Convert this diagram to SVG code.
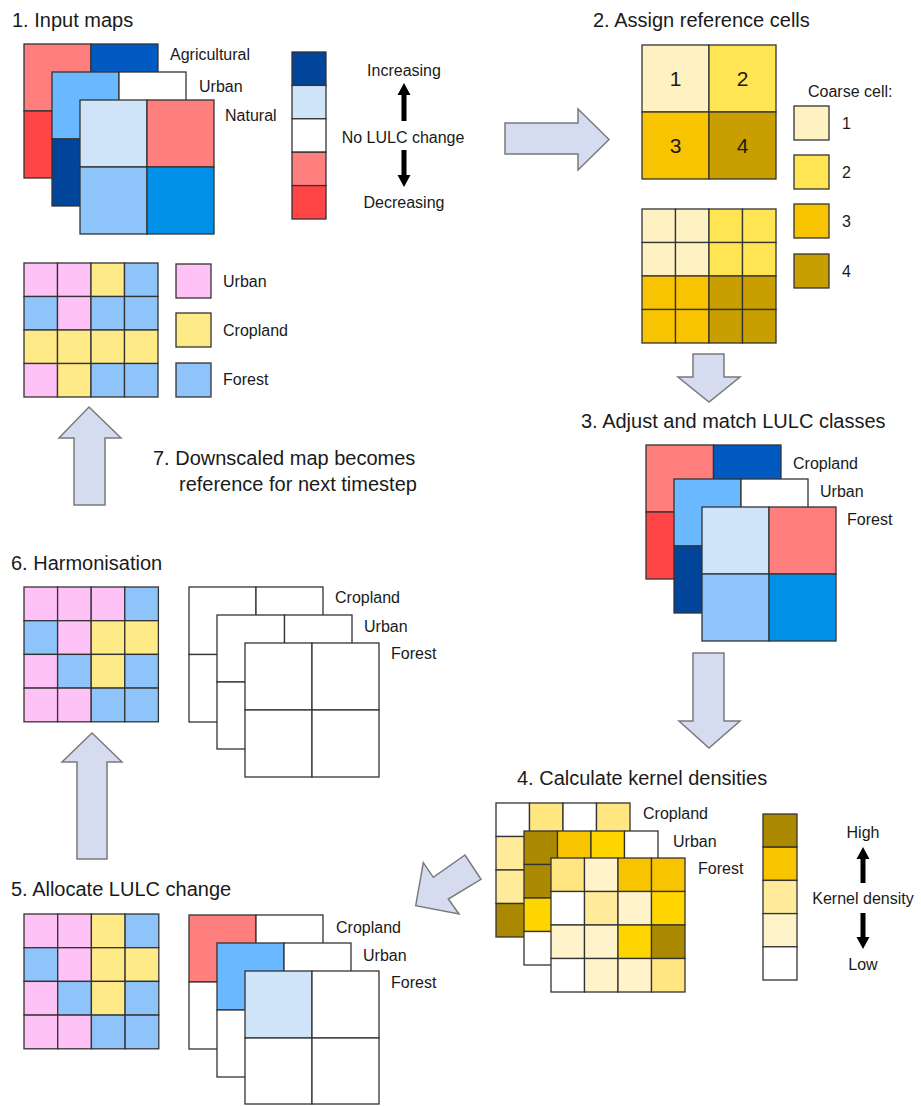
<svg xmlns="http://www.w3.org/2000/svg" width="921" height="1106" viewBox="0 0 921 1106">
<style>
text{font-family:"Liberation Sans",Arial,sans-serif;fill:#1a1a1a}
.t{font-size:20px}
.l{font-size:16px}
.n{font-size:21px}
rect{stroke:#333;stroke-width:1.3}
.blk{fill:#000;stroke:none}
.ba{fill:#D6DCEF;stroke:#7a7a7a;stroke-width:1.5;stroke-linejoin:miter}
.sa{fill:#FF7F7F}.rd{fill:#FF4545}.db1{fill:#005AC2}.db2{fill:#00459A}.lb{fill:#6AB8FF}.pb{fill:#CFE4F8}.mb{fill:#8DC4FA}.bb{fill:#0090E8}.w{fill:#fff}
.y1{fill:#FFF2C2}.y2{fill:#FFE453}.y3{fill:#F8C300}.y4{fill:#C99E00}
.kd{fill:#AB8900}.ko{fill:#F8C400}.kg{fill:#FFD500}.km{fill:#FFE680}.kl{fill:#FFEB9A}.kv{fill:#FFF3CC}
.P{fill:#FFC2F6}.Y{fill:#FFEA88}.B{fill:#8EC4FA}
</style>

<g id="connectors">
<polygon class="ba" points="505,123 578,123 578,109 609,139.5 578,170 578,154 505,154"/>
<polygon class="ba" points="693,354 724,354 724,377 740,377 709,402 678,377 693,377"/>
<polygon class="ba" points="693,653 724,653 724,721 740,721 709,748 679,721 693,721"/>
<polygon class="ba" points="415.7,905.7 423.3,862.7 433.3,877.3 465,855 481,879.3 448.3,899 459,914"/>
<polygon class="ba" points="77,859 107,859 107,762 122,762 92,733 62,762 77,762"/>
<polygon class="ba" points="74,505 105,505 105,438 121,438 89,407 59,438 74,438"/>
</g>

<g id="step1-input-maps">
<text class="t" x="12" y="27">1. Input maps</text>
<g id="s1-agricultural">
<rect class="sa" x="24" y="44" width="67" height="67"/><rect class="db1" x="91" y="44" width="67" height="67"/>
<rect class="rd" x="24" y="111" width="67" height="67"/><rect class="sa" x="91" y="111" width="67" height="67"/>
</g>
<g id="s1-urban">
<rect class="lb" x="52" y="72" width="67" height="67"/><rect class="w" x="119" y="72" width="67" height="67"/>
<rect class="db2" x="52" y="139" width="67" height="67"/><rect class="w" x="119" y="139" width="67" height="67"/>
</g>
<g id="s1-natural">
<rect class="pb" x="80" y="100" width="67" height="67"/><rect class="sa" x="147" y="100" width="67" height="67"/>
<rect class="mb" x="80" y="167" width="67" height="67"/><rect class="bb" x="147" y="167" width="67" height="67"/>
</g>
<text class="l" x="170" y="60">Agricultural</text>
<text class="l" x="199" y="92">Urban</text>
<text class="l" x="225" y="121">Natural</text>
</g>

<g id="legend-change">
<rect class="db2" x="292" y="52" width="34" height="33.4"/>
<rect class="pb" x="292" y="85.4" width="34" height="33.4"/>
<rect class="w" x="292" y="118.8" width="34" height="33.4"/>
<rect class="sa" x="292" y="152.2" width="34" height="33.4"/>
<rect class="rd" x="292" y="185.6" width="34" height="33.4"/>
<text class="l" x="404" y="76" text-anchor="middle">Increasing</text>
<polygon class="blk" points="404,83 410.5,95 406.5,95 406.5,121 401.5,121 401.5,95 397.5,95"/>
<text class="l" x="403" y="143" text-anchor="middle">No LULC change</text>
<polygon class="blk" points="404,187 410.5,175 406.5,175 406.5,150 401.5,150 401.5,175 397.5,175"/>
<text class="l" x="404" y="208" text-anchor="middle">Decreasing</text>
</g>

<g id="step2-reference-cells">
<text class="t" x="593" y="27">2. Assign reference cells</text>
<g id="s2-coarse">
<rect class="y1" x="642" y="45" width="67" height="67"/><rect class="y2" x="709" y="45" width="67" height="67"/>
<rect class="y3" x="642" y="112" width="67" height="67"/><rect class="y4" x="709" y="112" width="67" height="67"/>
<text class="n" x="675.5" y="86" text-anchor="middle">1</text>
<text class="n" x="742.5" y="86" text-anchor="middle">2</text>
<text class="n" x="675.5" y="153" text-anchor="middle">3</text>
<text class="n" x="742.5" y="153" text-anchor="middle">4</text>
</g>
<g id="s2-fine">
<rect class="y1" x="642" y="209" width="33.5" height="33.5"/><rect class="y1" x="675.5" y="209" width="33.5" height="33.5"/><rect class="y2" x="709" y="209" width="33.5" height="33.5"/><rect class="y2" x="742.5" y="209" width="33.5" height="33.5"/>
<rect class="y1" x="642" y="242.5" width="33.5" height="33.5"/><rect class="y1" x="675.5" y="242.5" width="33.5" height="33.5"/><rect class="y2" x="709" y="242.5" width="33.5" height="33.5"/><rect class="y2" x="742.5" y="242.5" width="33.5" height="33.5"/>
<rect class="y3" x="642" y="276" width="33.5" height="33.5"/><rect class="y3" x="675.5" y="276" width="33.5" height="33.5"/><rect class="y4" x="709" y="276" width="33.5" height="33.5"/><rect class="y4" x="742.5" y="276" width="33.5" height="33.5"/>
<rect class="y3" x="642" y="309.5" width="33.5" height="33.5"/><rect class="y3" x="675.5" y="309.5" width="33.5" height="33.5"/><rect class="y4" x="709" y="309.5" width="33.5" height="33.5"/><rect class="y4" x="742.5" y="309.5" width="33.5" height="33.5"/>
</g>
</g>

<g id="legend-coarse-cell">
<text class="l" x="808" y="97">Coarse cell:</text>
<rect class="y1" x="794" y="106" width="35" height="34"/><text class="l" x="842" y="129">1</text>
<rect class="y2" x="794" y="155" width="35" height="34"/><text class="l" x="842" y="178">2</text>
<rect class="y3" x="794" y="204" width="35" height="34"/><text class="l" x="842" y="227">3</text>
<rect class="y4" x="794" y="254" width="35" height="34"/><text class="l" x="842" y="277">4</text>
</g>

<g id="step3-adjust-match">
<text class="t" x="581" y="428">3. Adjust and match LULC classes</text>
<g id="s3-cropland">
<rect class="sa" x="646" y="445" width="67.5" height="67"/><rect class="db1" x="713.5" y="445" width="67.5" height="67"/>
<rect class="rd" x="646" y="512" width="67.5" height="67"/><rect class="sa" x="713.5" y="512" width="67.5" height="67"/>
</g>
<g id="s3-urban">
<rect class="lb" x="674" y="479" width="67" height="67"/><rect class="w" x="741" y="479" width="67" height="67"/>
<rect class="db2" x="674" y="546" width="67" height="67"/><rect class="w" x="741" y="546" width="67" height="67"/>
</g>
<g id="s3-forest">
<rect class="pb" x="702" y="507" width="67" height="67"/><rect class="sa" x="769" y="507" width="67" height="67"/>
<rect class="mb" x="702" y="574" width="67" height="67"/><rect class="bb" x="769" y="574" width="67" height="67"/>
</g>
<text class="l" x="793" y="469">Cropland</text>
<text class="l" x="820" y="497">Urban</text>
<text class="l" x="847" y="525">Forest</text>
</g>

<g id="step4-kernel-densities">
<text class="t" x="517" y="785">4. Calculate kernel densities</text>
<g id="s4-cropland">
<rect class="w" x="496" y="803" width="33.5" height="33.5"/><rect class="km" x="529.5" y="803" width="33.5" height="33.5"/><rect class="w" x="563" y="803" width="33.5" height="33.5"/><rect class="km" x="596.5" y="803" width="33.5" height="33.5"/>
<rect class="kl" x="496" y="836.5" width="33.5" height="33.5"/>
<rect class="kl" x="496" y="870" width="33.5" height="33.5"/>
<rect class="kd" x="496" y="903.5" width="33.5" height="33.5"/>
</g>
<g id="s4-urban">
<rect class="kd" x="524" y="831" width="33.5" height="33.5"/><rect class="ko" x="557.5" y="831" width="33.5" height="33.5"/><rect class="kg" x="591" y="831" width="33.5" height="33.5"/><rect class="w" x="624.5" y="831" width="33.5" height="33.5"/>
<rect class="kd" x="524" y="864.5" width="33.5" height="33.5"/>
<rect class="kg" x="524" y="898" width="33.5" height="33.5"/>
<rect class="w" x="524" y="931.5" width="33.5" height="33.5"/>
</g>
<g id="s4-forest">
<rect class="km" x="551" y="858" width="33.5" height="33.5"/><rect class="kv" x="584.5" y="858" width="33.5" height="33.5"/><rect class="ko" x="618" y="858" width="33.5" height="33.5"/><rect class="ko" x="651.5" y="858" width="33.5" height="33.5"/>
<rect class="w" x="551" y="891.5" width="33.5" height="33.5"/><rect class="kl" x="584.5" y="891.5" width="33.5" height="33.5"/><rect class="kv" x="618" y="891.5" width="33.5" height="33.5"/><rect class="kg" x="651.5" y="891.5" width="33.5" height="33.5"/>
<rect class="kv" x="551" y="925" width="33.5" height="33.5"/><rect class="kv" x="584.5" y="925" width="33.5" height="33.5"/><rect class="kg" x="618" y="925" width="33.5" height="33.5"/><rect class="kd" x="651.5" y="925" width="33.5" height="33.5"/>
<rect class="w" x="551" y="958.5" width="33.5" height="33.5"/><rect class="kv" x="584.5" y="958.5" width="33.5" height="33.5"/><rect class="kv" x="618" y="958.5" width="33.5" height="33.5"/><rect class="km" x="651.5" y="958.5" width="33.5" height="33.5"/>
</g>
<text class="l" x="643" y="819">Cropland</text>
<text class="l" x="673" y="847">Urban</text>
<text class="l" x="698" y="874">Forest</text>
</g>

<g id="legend-kernel-density">
<rect class="kd" x="763" y="814" width="34" height="33.2"/>
<rect class="ko" x="763" y="847.2" width="34" height="33.2"/>
<rect class="kl" x="763" y="880.4" width="34" height="33.2"/>
<rect class="kv" x="763" y="913.6" width="34" height="33.2"/>
<rect class="w" x="763" y="946.8" width="34" height="33.2"/>
<text class="l" x="863" y="838" text-anchor="middle">High</text>
<polygon class="blk" points="863,847 869.5,859 865.5,859 865.5,883 860.5,883 860.5,859 856.5,859"/>
<text class="l" x="863" y="904" text-anchor="middle">Kernel density</text>
<polygon class="blk" points="863,949 869.5,937 865.5,937 865.5,913 860.5,913 860.5,937 856.5,937"/>
<text class="l" x="863" y="970" text-anchor="middle">Low</text>
</g>

<g id="step5-allocate">
<text class="t" x="11" y="896">5. Allocate LULC change</text>
<g id="s5-map">
<rect class="P" x="24" y="914" width="33.7" height="33.7"/><rect class="P" x="57.7" y="914" width="33.7" height="33.7"/><rect class="Y" x="91.4" y="914" width="33.7" height="33.7"/><rect class="B" x="125.1" y="914" width="33.7" height="33.7"/>
<rect class="B" x="24" y="947.7" width="33.7" height="33.7"/><rect class="P" x="57.7" y="947.7" width="33.7" height="33.7"/><rect class="Y" x="91.4" y="947.7" width="33.7" height="33.7"/><rect class="Y" x="125.1" y="947.7" width="33.7" height="33.7"/>
<rect class="P" x="24" y="981.4" width="33.7" height="33.7"/><rect class="B" x="57.7" y="981.4" width="33.7" height="33.7"/><rect class="Y" x="91.4" y="981.4" width="33.7" height="33.7"/><rect class="B" x="125.1" y="981.4" width="33.7" height="33.7"/>
<rect class="P" x="24" y="1015.1" width="33.7" height="33.7"/><rect class="P" x="57.7" y="1015.1" width="33.7" height="33.7"/><rect class="B" x="91.4" y="1015.1" width="33.7" height="33.7"/><rect class="B" x="125.1" y="1015.1" width="33.7" height="33.7"/>
</g>
<g id="s5-cropland">
<rect class="sa" x="189" y="915" width="67" height="67"/><rect class="w" x="256" y="915" width="67" height="67"/>
<rect class="w" x="189" y="982" width="67" height="67"/><rect class="w" x="256" y="982" width="67" height="67"/>
</g>
<g id="s5-urban">
<rect class="lb" x="217" y="943" width="67" height="67"/><rect class="w" x="284" y="943" width="67" height="67"/>
<rect class="w" x="217" y="1010" width="67" height="67"/><rect class="w" x="284" y="1010" width="67" height="67"/>
</g>
<g id="s5-forest">
<rect class="pb" x="245" y="971" width="67" height="67"/><rect class="w" x="312" y="971" width="67" height="67"/>
<rect class="w" x="245" y="1038" width="67" height="66"/><rect class="w" x="312" y="1038" width="67" height="66"/>
</g>
<text class="l" x="336" y="933">Cropland</text>
<text class="l" x="363" y="961">Urban</text>
<text class="l" x="391" y="988">Forest</text>
</g>

<g id="step6-harmonisation">
<text class="t" x="11" y="570">6. Harmonisation</text>
<g id="s6-map">
<rect class="P" x="24" y="587" width="33.6" height="33.7"/><rect class="P" x="57.6" y="587" width="33.6" height="33.7"/><rect class="P" x="91.2" y="587" width="33.6" height="33.7"/><rect class="B" x="124.8" y="587" width="33.6" height="33.7"/>
<rect class="B" x="24" y="620.7" width="33.6" height="33.7"/><rect class="P" x="57.6" y="620.7" width="33.6" height="33.7"/><rect class="Y" x="91.2" y="620.7" width="33.6" height="33.7"/><rect class="Y" x="124.8" y="620.7" width="33.6" height="33.7"/>
<rect class="P" x="24" y="654.4" width="33.6" height="33.7"/><rect class="B" x="57.6" y="654.4" width="33.6" height="33.7"/><rect class="Y" x="91.2" y="654.4" width="33.6" height="33.7"/><rect class="B" x="124.8" y="654.4" width="33.6" height="33.7"/>
<rect class="P" x="24" y="688.1" width="33.6" height="33.7"/><rect class="P" x="57.6" y="688.1" width="33.6" height="33.7"/><rect class="B" x="91.2" y="688.1" width="33.6" height="33.7"/><rect class="B" x="124.8" y="688.1" width="33.6" height="33.7"/>
</g>
<g id="s6-cropland">
<rect class="w" x="189" y="587" width="67" height="67.5"/><rect class="w" x="256" y="587" width="67" height="67.5"/>
<rect class="w" x="189" y="654.5" width="67" height="67.5"/><rect class="w" x="256" y="654.5" width="67" height="67.5"/>
</g>
<g id="s6-urban">
<rect class="w" x="217" y="615" width="67.5" height="67"/><rect class="w" x="284.5" y="615" width="67.5" height="67"/>
<rect class="w" x="217" y="682" width="67.5" height="67"/><rect class="w" x="284.5" y="682" width="67.5" height="67"/>
</g>
<g id="s6-forest">
<rect class="w" x="245" y="643" width="67" height="67"/><rect class="w" x="312" y="643" width="67" height="67"/>
<rect class="w" x="245" y="710" width="67" height="67"/><rect class="w" x="312" y="710" width="67" height="67"/>
</g>
<text class="l" x="335" y="603">Cropland</text>
<text class="l" x="364" y="632">Urban</text>
<text class="l" x="391" y="659">Forest</text>
</g>

<g id="step7-reference-map">
<g id="s7-map">
<rect class="P" x="24" y="263" width="33.5" height="33.5"/><rect class="P" x="57.5" y="263" width="33.5" height="33.5"/><rect class="Y" x="91" y="263" width="33.5" height="33.5"/><rect class="B" x="124.5" y="263" width="33.5" height="33.5"/>
<rect class="B" x="24" y="296.5" width="33.5" height="33.5"/><rect class="P" x="57.5" y="296.5" width="33.5" height="33.5"/><rect class="B" x="91" y="296.5" width="33.5" height="33.5"/><rect class="B" x="124.5" y="296.5" width="33.5" height="33.5"/>
<rect class="Y" x="24" y="330" width="33.5" height="33.5"/><rect class="Y" x="57.5" y="330" width="33.5" height="33.5"/><rect class="Y" x="91" y="330" width="33.5" height="33.5"/><rect class="Y" x="124.5" y="330" width="33.5" height="33.5"/>
<rect class="P" x="24" y="363.5" width="33.5" height="33.5"/><rect class="Y" x="57.5" y="363.5" width="33.5" height="33.5"/><rect class="B" x="91" y="363.5" width="33.5" height="33.5"/><rect class="B" x="124.5" y="363.5" width="33.5" height="33.5"/>
</g>
<text class="t" x="153" y="465">7. Downscaled map becomes</text>
<text class="t" x="179" y="491">reference for next timestep</text>
</g>

<g id="legend-classes">
<rect class="P" x="176" y="264" width="35" height="34"/><text class="l" x="223" y="287">Urban</text>
<rect class="Y" x="176" y="313" width="35" height="34"/><text class="l" x="223" y="336">Cropland</text>
<rect class="B" x="176" y="363" width="35" height="34"/><text class="l" x="223" y="385">Forest</text>
</g>
</svg>
